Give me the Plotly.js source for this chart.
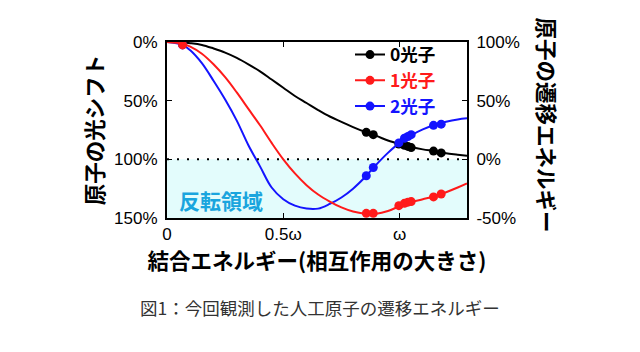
<!DOCTYPE html>
<html>
<head>
<meta charset="utf-8">
<script src="https://cdn.plot.ly/plotly-3.0.1.min.js"></script>
<style>html,body{margin:0;padding:0;background:#fff;}#chart{width:640px;height:352px;}</style>
</head>
<body>
<div id="chart"></div>
<script>
// Coupling strength (units of ω) for the theory curves
const gCurve = [0, 0.067, 0.1, 0.15, 0.2, 0.25, 0.3, 0.35, 0.4, 0.45, 0.5, 0.55, 0.6, 0.65, 0.7, 0.75, 0.8, 0.85, 0.9, 0.95, 1.0, 1.05, 1.1, 1.15, 1.2, 1.25, 1.29];
// Light shift (%) theory curves
const shift0 = [0, 0.4, 1, 2.5, 5.5, 9, 13.5, 19, 25, 32, 39, 46, 52, 58, 63.5, 68, 72.5, 76.5, 80, 84, 87, 89.5, 91.5, 93, 94.8, 96, 97];
const shift1 = [0, 1.5, 4, 10, 19, 30, 43, 57, 71, 86, 100, 112, 122, 130, 136, 141, 144.5, 146.3, 146.3, 144, 140, 136.5, 134, 131.5, 128, 124, 120.5];
const shift2 = [0, 2.5, 7, 18, 33, 49, 67, 88, 106, 124, 134, 139.5, 142, 142, 138, 132.5, 125, 115.5, 104.5, 94.5, 86, 79.5, 74.5, 70.8, 68, 66, 65];
// Measured points
const gMeas = [0.067, 0.857, 0.887, 0.997, 1.021, 1.036, 1.050, 1.146, 1.179];
const meas0 = [0.5, 77, 79, 87, 88, 89, 90, 93, 94.5];
const meas1 = [2.5, 146, 146, 139.5, 137.5, 136.5, 136, 132, 129.5];
const meas2 = [2.5, 114, 107, 86, 82, 80.5, 79, 71, 70];
// Names / labels
const seriesNames = ['0光子', '1光子', '2光子'];
const colors = ['#000000', '#ff1a1a', '#1414ff'];
const xTickVals = [0, 0.5, 1];
const xTickText = ['0', '0.5ω', 'ω'];
const yLeftTicks = [0, 50, 100, 150];
const yLeftText = ['0%', '50%', '100%', '150%'];
const yRightTicks = [-50, 0, 50, 100];
const yRightText = ['-50%', '0%', '50%', '100%'];
const inversionLevel = [100, 150];

const cjk = 'Noto Sans CJK JP, Liberation Sans, sans-serif';
const latin = 'Liberation Sans, Arial, sans-serif';

function curve(y, c) {
  return {x: gCurve, y: y, mode: 'lines', line: {color: c, width: 2, shape: 'spline', smoothing: 1}, showlegend: false, hoverinfo: 'skip'};
}
function pts(y, c) {
  return {x: gMeas, y: y, mode: 'markers', marker: {color: c, size: 9}, showlegend: false, hoverinfo: 'skip'};
}
function leg(i) {
  return {x: [null], y: [null], yaxis: 'y2', mode: 'lines+markers', name: '<span style="color:' + colors[i] + '">' + seriesNames[i] + '</span>',
    line: {color: colors[i], width: 2}, marker: {color: colors[i], size: 9}, legendrank: i + 1};
}

const data = [
  curve(shift0, colors[0]), pts(meas0, colors[0]),
  curve(shift2, colors[2]), pts(meas2, colors[2]),
  curve(shift1, colors[1]), pts(meas1, colors[1]),
  leg(0), leg(1), leg(2)
];

const layout = {
  width: 640, height: 352,
  margin: {l: 167, r: 173, t: 42, b: 134},
  paper_bgcolor: '#ffffff', plot_bgcolor: '#ffffff',
  font: {family: latin, color: '#000'},
  showlegend: true,
  legend: {x: 0.61, y: 1.03, xanchor: 'left', yanchor: 'top', bgcolor: 'rgba(0,0,0,0)', borderwidth: 0,
    font: {family: cjk, size: 17.5, weight: 'bold'}, tracegroupgap: 0},
  xaxis: {range: [0, 1.29], tickvals: xTickVals, ticktext: xTickText, ticks: 'inside', ticklen: 5, tickwidth: 1.5, tickcolor: '#000',
    showline: true, linewidth: 2, linecolor: '#000', mirror: 'ticks', showgrid: false, zeroline: false,
    tickfont: {family: latin, size: 17},
    title: {text: '結合エネルギー(相互作用の大きさ)', font: {family: cjk, size: 21.5, weight: 'bold'}, standoff: 7}},
  yaxis: {range: [150, 0], tickvals: yLeftTicks, ticktext: yLeftText, ticks: 'inside', ticklen: 5, tickwidth: 1.5, tickcolor: '#000',
    showline: true, linewidth: 2, linecolor: '#000', showgrid: false, zeroline: false,
    tickfont: {family: latin, size: 17}, ticklabelstandoff: 4,
    title: {text: '原子の光シフト', font: {family: cjk, size: 21.5, weight: 'bold'}, standoff: 5}},
  yaxis2: {overlaying: 'y', side: 'right', range: [-50, 100], tickvals: yRightTicks, ticktext: yRightText, ticks: 'inside', ticklen: 5, tickwidth: 1.5, tickcolor: '#000',
    showline: true, linewidth: 2, linecolor: '#000', showgrid: false, zeroline: false,
    tickfont: {family: latin, size: 17}, ticklabelstandoff: 4},
  shapes: [
    {type: 'rect', xref: 'paper', yref: 'y', x0: 0, x1: 1, y0: inversionLevel[0], y1: inversionLevel[1], fillcolor: '#e3fcfc', line: {width: 0}, layer: 'below'},
    {type: 'line', xref: 'paper', yref: 'y', x0: 0, x1: 1, y0: inversionLevel[0], y1: inversionLevel[0], line: {color: '#000', width: 2, dash: '2px,8px'}}
  ],
  annotations: [
    {text: '反転領域', xref: 'paper', yref: 'y', x: 0.033, y: 134.5, xanchor: 'left', yanchor: 'middle', showarrow: false,
      font: {family: cjk, size: 21, color: '#1aa5de', weight: 'bold'}},
    {text: '原子の遷移エネルギー', xref: 'paper', yref: 'paper', x: 1.267, y: 0.53, xanchor: 'center', yanchor: 'middle', textangle: 90, showarrow: false,
      font: {family: cjk, size: 21.5, color: '#000', weight: 'bold'}},
    {text: '図1：今回観測した人工原子の遷移エネルギー', xref: 'paper', yref: 'paper', x: 0.51, y: -0.511, xanchor: 'center', yanchor: 'middle', showarrow: false,
      font: {family: cjk, size: 17.5, color: '#333'}}
  ]
};

Plotly.newPlot('chart', data, layout, {staticPlot: true, displayModeBar: false});
</script>
</body>
</html>
